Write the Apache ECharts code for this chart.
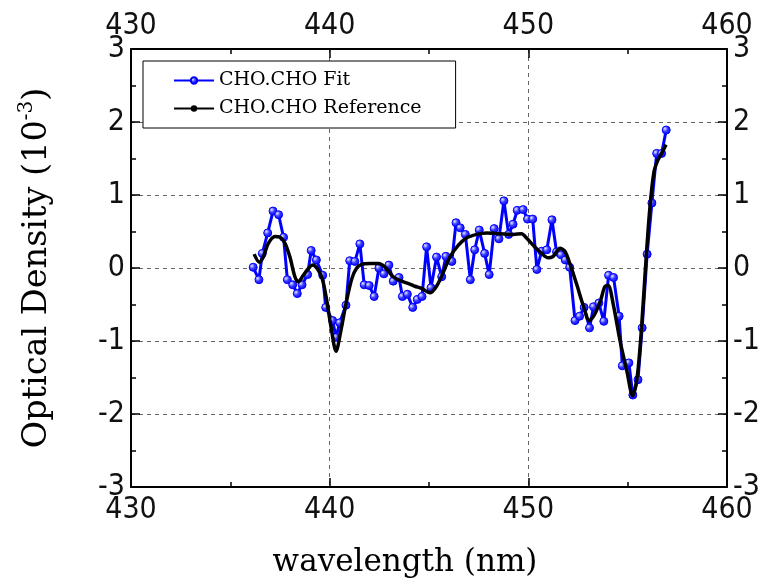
<!DOCTYPE html>
<html>
<head>
<meta charset="utf-8">
<script src="https://cdn.jsdelivr.net/npm/echarts@6/dist/echarts.min.js"></script>
<style>html,body{margin:0;padding:0;background:#fff}#c{width:767px;height:586px}</style>
</head>
<body>
<div id="c"></div>
<script>
var xTicks = [430, 440, 450, 460];
var yTicks = [-3, -2, -1, 0, 1, 2, 3];

var fitX = [436.15,436.44,436.61,436.88,437.15,437.43,437.68,437.87,438.14,438.37,438.61,438.89,439.07,439.33,439.65,439.80,440.15,440.32,440.50,440.82,441.01,441.27,441.52,441.74,441.99,442.24,442.48,442.73,442.98,443.20,443.49,443.66,443.91,444.18,444.41,444.65,444.88,445.10,445.38,445.64,445.85,446.15,446.36,446.57,446.83,447.08,447.30,447.53,447.80,448.03,448.28,448.52,448.77,449.01,449.23,449.44,449.74,449.96,450.22,450.43,450.67,450.93,451.19,451.42,451.65,451.86,452.08,452.35,452.58,452.81,453.08,453.28,453.55,453.80,454.04,454.29,454.57,454.73,455.06,455.26,455.52,455.73,455.98,456.22,456.46,456.71,456.94];
var fitY = [0.01,-0.16,0.20,0.48,0.78,0.73,0.42,-0.16,-0.23,-0.35,-0.23,-0.09,0.24,0.11,-0.10,-0.54,-0.72,-0.95,-0.75,-0.51,0.10,0.09,0.33,-0.23,-0.24,-0.39,0.00,-0.08,0.04,-0.18,-0.13,-0.39,-0.36,-0.54,-0.43,-0.39,0.29,-0.27,0.15,-0.12,0.16,0.09,0.62,0.55,0.46,-0.16,0.25,0.52,0.20,-0.09,0.54,0.40,0.92,0.46,0.60,0.79,0.80,0.67,0.67,-0.02,0.23,0.25,0.66,0.22,0.18,0.11,0.01,-0.72,-0.66,-0.54,-0.82,-0.53,-0.48,-0.73,-0.10,-0.13,-0.66,-1.34,-1.30,-1.74,-1.53,-0.82,0.19,0.89,1.57,1.57,1.89];

var refX = [436.20,436.46,436.66,436.90,437.25,437.50,437.75,438.00,438.25,438.42,438.67,438.92,439.14,439.38,439.63,439.85,440.07,440.32,440.57,440.82,441.11,441.36,441.61,442.03,442.45,442.79,443.20,443.62,444.04,444.29,444.63,445.05,445.38,445.72,446.05,446.47,446.89,447.40,447.90,448.57,449.24,449.66,449.91,450.25,450.67,451.00,451.25,451.59,451.84,452.09,452.43,452.76,453.07,453.35,453.64,453.86,454.02,454.27,454.61,454.95,455.25,455.48,455.70,455.92,456.12,456.32,456.51,456.71,456.93];
var refY = [0.19,0.08,0.15,0.33,0.43,0.42,0.34,0.15,-0.12,-0.19,-0.10,-0.01,0.04,-0.01,-0.15,-0.44,-0.81,-1.14,-0.85,-0.49,-0.15,0.00,0.05,0.06,0.06,0.01,-0.12,-0.18,-0.22,-0.25,-0.28,-0.34,-0.25,-0.06,0.15,0.31,0.41,0.46,0.48,0.47,0.46,0.47,0.41,0.31,0.20,0.14,0.16,0.27,0.23,0.06,-0.22,-0.51,-0.72,-0.63,-0.44,-0.25,-0.24,-0.49,-0.99,-1.40,-1.75,-1.49,-0.81,0.10,0.83,1.31,1.47,1.57,1.69];

function pairs(xs, ys){ return xs.map(function(x,i){ return [x, ys[i]]; }); }

var tickFont = "'Liberation Sans Narrow','DejaVu Sans Condensed','Liberation Sans',sans-serif";
var serif = "'DejaVu Serif','Liberation Serif',serif";

var chart = echarts.init(document.getElementById('c'), null, {renderer:'canvas'});

function xAxisCfg(pos, grid){
  return {
    type:'value', position:pos, min:xTicks[0], max:xTicks[xTicks.length-1], interval:10,
    axisLine:{show:true, onZero:false, lineStyle:{color:'#000', width:2}},
    axisTick:{show:true, inside:true, length:9, lineStyle:{color:'#000', width:1.5}},
    minorTick:{show:true, splitNumber:2, length:5, lineStyle:{color:'#000', width:1.5}},
    axisLabel:{show:true, color:'#111', fontFamily:tickFont, fontSize:30, margin:8},
    splitLine:{show: grid, lineStyle:{color:'#666', type:[4,4], width:1}}
  };
}
function yAxisCfg(pos, grid){
  return {
    type:'value', position:pos, min:yTicks[0], max:yTicks[yTicks.length-1], interval:1,
    axisLine:{show:true, onZero:false, lineStyle:{color:'#000', width:2}},
    axisTick:{show:true, inside:true, length:9, lineStyle:{color:'#000', width:1.5}},
    minorTick:{show:true, splitNumber:2, length:5, lineStyle:{color:'#000', width:1.5}},
    axisLabel:{show:true, color:'#111', fontFamily:tickFont, fontSize:30, margin:6},
    splitLine:{show: grid, lineStyle:{color:'#666', type:[4,4], width:1}}
  };
}

var xb = xAxisCfg('bottom', true);
xb.name = 'wavelength (nm)';
xb.nameLocation = 'middle';
xb.nameGap = 60;
xb.nameTextStyle = {fontFamily:serif, fontSize:31, color:'#000', padding:[0,48,0,0]};
var xt = xAxisCfg('top', false);

var yl = yAxisCfg('left', true);
yl.name = 'Optical Density (10{sup|-3})';
yl.nameLocation = 'middle';
yl.nameGap = 73;
yl.nameRotate = 90;
yl.nameTextStyle = {fontFamily:serif, fontSize:33.5, color:'#000',
  rich:{sup:{fontFamily:serif, fontSize:20, color:'#000', padding:[0,0,21,0]}}};
var yr = yAxisCfg('right', false);

var blueGrad = new echarts.graphic.RadialGradient(0.35, 0.35, 0.7, [
  {offset:0, color:'#e8e8ff'}, {offset:0.45, color:'#3b3bff'}, {offset:1, color:'#0000ff'}]);

chart.setOption({
  animation:false,
  backgroundColor:'#fff',
  grid:{left:131, right:40, top:49, bottom:99, containLabel:false},
  xAxis:[xb, xt],
  yAxis:[yl, yr],
  legend:{
    left:143, top:61, orient:'vertical', itemWidth:40, itemHeight:8, itemGap:7,
    padding:[9,34,9,30], borderColor:'#000', borderWidth:1, backgroundColor:'#fff',
    textStyle:{fontFamily:serif, fontSize:19, color:'#000', lineHeight:21},
    data:['CHO.CHO Fit','CHO.CHO Reference']
  },
  series:[
    {
      name:'CHO.CHO Fit', type:'line', xAxisIndex:0, yAxisIndex:0,
      data:pairs(fitX, fitY),
      lineStyle:{color:'#0000ff', width:3},
      symbol:'circle', symbolSize:8, showSymbol:true,
      itemStyle:{color:blueGrad, borderColor:'#0000ff', borderWidth:1},
      z:2
    },
    {
      name:'CHO.CHO Reference', type:'line', xAxisIndex:0, yAxisIndex:0,
      data:pairs(refX, refY),
      smooth:0.3,
      lineStyle:{color:'#000', width:3.5},
      symbol:'circle', symbolSize:4, showSymbol:false,
      itemStyle:{color:'#000'},
      z:3
    }
  ]
});
</script>
</body>
</html>
